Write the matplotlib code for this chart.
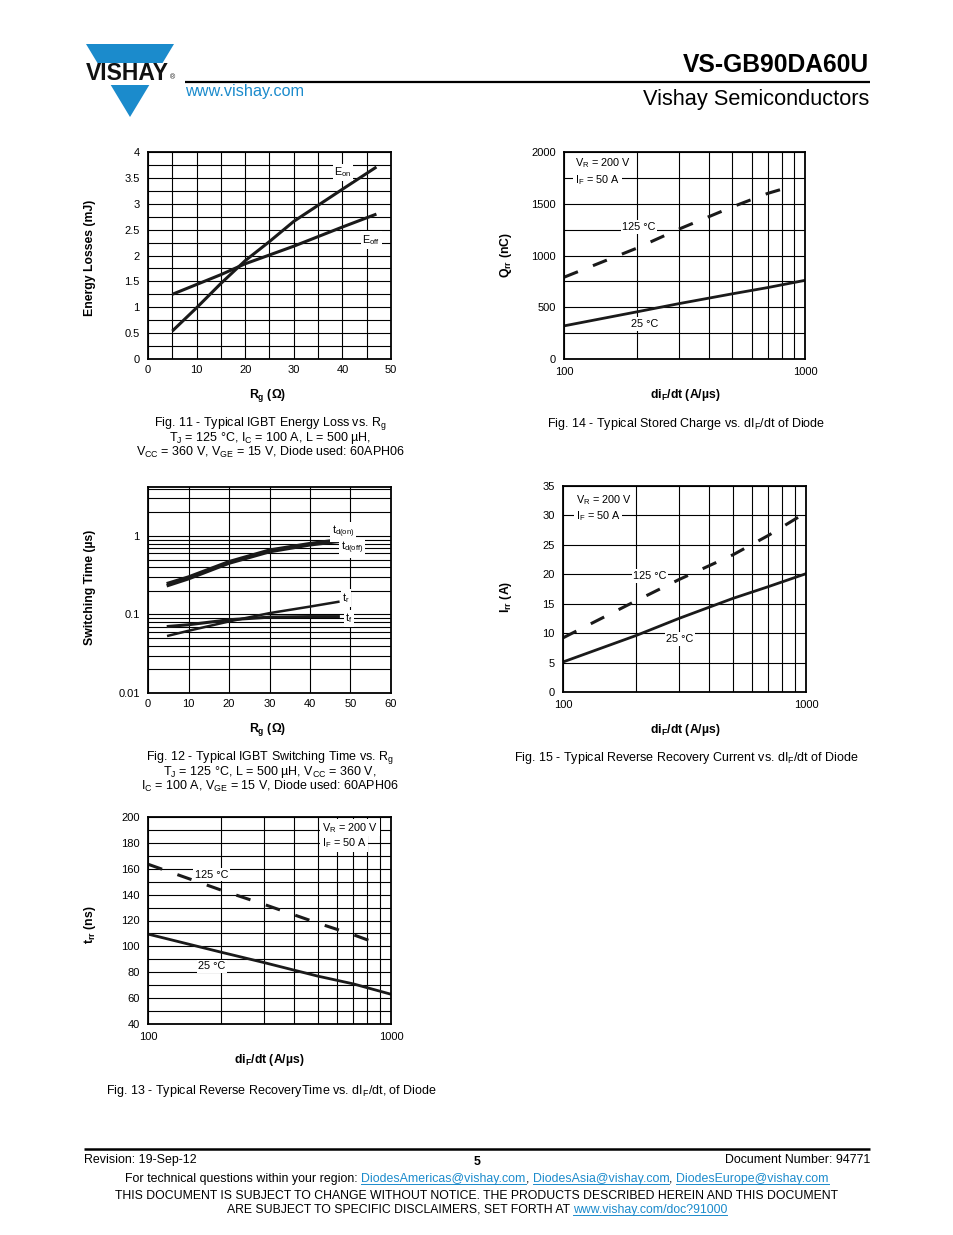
import matplotlib
matplotlib.use("Agg")
import matplotlib.pyplot as plt
from matplotlib.ticker import FixedLocator, MultipleLocator, NullFormatter, FixedFormatter
from matplotlib.patches import Polygon, Rectangle

plt.rcParams['font.family'] = ['Liberation Sans', 'DejaVu Sans']
plt.rcParams['mathtext.fontset'] = 'custom'
plt.rcParams['mathtext.rm'] = 'Liberation Sans'
plt.rcParams['mathtext.it'] = 'Liberation Sans'
plt.rcParams['mathtext.bf'] = 'Liberation Sans:bold'

# ---------------- data ----------------
# Fig 11 - energy loss vs Rg
rg_eon = [5, 10, 15, 20, 25, 30, 40, 47]
e_on = [0.54, 0.99, 1.46, 1.90, 2.27, 2.66, 3.28, 3.71]
rg_eoff = [5, 10, 15, 20, 30, 40, 47]
e_off = [1.25, 1.44, 1.63, 1.84, 2.18, 2.55, 2.80]

# Fig 12 - switching time vs Rg
rg_t = [5, 10, 20, 30, 40, 47]
td_on = [0.25, 0.30, 0.47, 0.66, 0.80, 0.89]
td_off = [0.235, 0.285, 0.45, 0.63, 0.77, 0.85]
t_r = [0.0536, 0.062, 0.0815, 0.104, 0.126, 0.145]
t_f = [0.0704, 0.074, 0.0856, 0.0925, 0.094, 0.094]

# Fig 13 - trr vs dIF/dt
didt_25 = [100, 200, 300, 500, 700, 1000]
trr_25 = [109.5, 95.5, 87.5, 77.0, 71.0, 63.0]
didt_125 = [100, 200, 300, 500, 700, 900]
trr_125 = [163.5, 143.5, 132.5, 118.0, 109.0, 101.5]

# Fig 14 - Qrr vs dIF/dt
qrr_25 = [320, 455, 535, 630, 690, 760]
qrr_125 = [790, 1070, 1255, 1470, 1600, 1675]

# Fig 15 - Irr vs dIF/dt
irr_25 = [5.1, 9.6, 12.5, 15.9, 17.9, 20.1]
irr_125 = [9.2, 15.5, 19.1, 23.3, 26.6, 30.5]
didt_irr_125 = [100, 200, 300, 500, 700, 1000]

W, H = 954, 1235
fig = plt.figure(figsize=(W / 100, H / 100), dpi=100)

ov = fig.add_axes([0, 0, 1, 1], zorder=-1)
ov.set_xlim(0, W)
ov.set_ylim(H, 0)
ov.axis('off')

BLUE = '#1b8bcc'
GRID = dict(color='black', lw=0.8)
TICK = 8
LBL = 8.8
CAP = 9.0
INL = 7.8
BOX = dict(facecolor='white', edgecolor='none', pad=1.2)
DASH = (0, (4.9, 5.3))


def px_axes(x0, y0, x1, y1):
    return fig.add_axes([x0 / W, 1 - y1 / H, (x1 - x0) / W, (y1 - y0) / H])


def style(ax):
    for s in ax.spines.values():
        s.set_linewidth(1.3)
    ax.tick_params(which='both', length=0, labelsize=TICK)
    ax.tick_params(axis='x', pad=4)
    ax.tick_params(axis='y', pad=6)
    ax.grid(True, which='both', **GRID)
    ax.set_axisbelow(True)


def logx_setup(ax):
    ax.set_xscale('log')
    ax.set_xlim(100, 1000)
    ax.xaxis.set_major_locator(FixedLocator([100, 1000]))
    ax.xaxis.set_major_formatter(FixedFormatter(['100', '1000']))
    ax.xaxis.set_minor_locator(FixedLocator([200, 300, 400, 500, 600, 700, 800, 900]))
    ax.xaxis.set_minor_formatter(NullFormatter())
    ax.tick_params(axis='x', pad=6)


# ---------------- Fig 11 ----------------
ax = px_axes(148, 152, 391, 359)
style(ax)
ax.set_xlim(0, 50)
ax.set_ylim(0, 4)
ax.xaxis.set_major_locator(MultipleLocator(10))
ax.xaxis.set_minor_locator(MultipleLocator(5))
ax.yaxis.set_major_locator(MultipleLocator(0.5))
ax.yaxis.set_minor_locator(MultipleLocator(0.25))
ax.yaxis.set_major_formatter(plt.FuncFormatter(lambda v, p: ('%g' % v)))
ax.plot(rg_eon, e_on, color='#1a1a1a', lw=2.2, solid_capstyle='butt')
ax.plot(rg_eoff, e_off, color='#1a1a1a', lw=2.2, solid_capstyle='butt')
ax.text(40.1, 3.61, 'E$_{on}$', fontsize=INL, ha='center', va='center', bbox=BOX)
ax.text(45.9, 2.30, 'E$_{off}$', fontsize=INL, ha='center', va='center', bbox=BOX)

# ---------------- Fig 12 ----------------
ax = px_axes(148, 487, 391, 693)
style(ax)
ax.set_yscale('log')
ax.set_xlim(0, 60)
ax.set_ylim(0.01, 4.2)
ax.xaxis.set_major_locator(MultipleLocator(10))
ax.xaxis.set_minor_locator(MultipleLocator(10))
ax.yaxis.set_major_locator(FixedLocator([0.01, 0.1, 1]))
ax.yaxis.set_major_formatter(FixedFormatter(['0.01', '0.1', '1']))
ax.yaxis.set_minor_locator(FixedLocator([m * 10.0 ** e for e in (-2, -1, 0) for m in range(2, 10)]))
ax.yaxis.set_minor_formatter(NullFormatter())
ax.plot(rg_t, td_on, color='#1a1a1a', lw=2.4)
ax.plot(rg_t, td_off, color='#1a1a1a', lw=2.4)
ax.plot(rg_t, t_r, color='#1a1a1a', lw=1.8)
ax.plot(rg_t, t_f, color='#1a1a1a', lw=2.2)
ax.text(48.1, 1.12, 't$_{d(on)}$', fontsize=INL, ha='center', va='center', bbox=BOX)
ax.text(50.4, 0.70, 't$_{d(off)}$', fontsize=INL, ha='center', va='center', bbox=BOX)
ax.text(48.9, 0.162, 't$_{r}$', fontsize=INL, ha='center', va='center', bbox=BOX)
ax.text(49.6, 0.090, 't$_{f}$', fontsize=INL, ha='center', va='center', bbox=BOX)

# ---------------- Fig 13 ----------------
ax = px_axes(148, 817, 391, 1024)
style(ax)
logx_setup(ax)
ax.set_ylim(40, 200)
ax.yaxis.set_major_locator(MultipleLocator(20))
ax.yaxis.set_minor_locator(MultipleLocator(10))
ax.plot(didt_25, trr_25, color='#1a1a1a', lw=2.0)
ax.plot(didt_125, trr_125, color='#1a1a1a', lw=2.2, ls=DASH)
ax.text(183, 155.5, '125 °C', fontsize=INL, ha='center', va='center', bbox=BOX)
ax.text(183, 84.5, '25 °C', fontsize=INL, ha='center', va='center', bbox=BOX)
ax.text(0.716, 0.947, 'V$_{R}$ = 200 V', fontsize=INL, ha='left', va='center',
        transform=ax.transAxes, bbox=BOX)
ax.text(0.716, 0.874, 'I$_{F}$ = 50 A', fontsize=INL, ha='left', va='center',
        transform=ax.transAxes, bbox=BOX)

# ---------------- Fig 14 ----------------
ax = px_axes(564, 152, 805, 359)
style(ax)
logx_setup(ax)
ax.set_ylim(0, 2000)
ax.yaxis.set_major_locator(MultipleLocator(500))
ax.yaxis.set_minor_locator(MultipleLocator(250))
ax.plot(didt_25, qrr_25, color='#1a1a1a', lw=2.0)
ax.plot(didt_125, qrr_125, color='#1a1a1a', lw=2.2, ls=DASH)
ax.text(205, 1275, '125 °C', fontsize=INL, ha='center', va='center', bbox=BOX)
ax.text(217, 338, '25 °C', fontsize=INL, ha='center', va='center', bbox=BOX)
ax.text(0.046, 0.947, 'V$_{R}$ = 200 V', fontsize=INL, ha='left', va='center',
        transform=ax.transAxes, bbox=BOX)
ax.text(0.046, 0.865, 'I$_{F}$ = 50 A', fontsize=INL, ha='left', va='center',
        transform=ax.transAxes, bbox=BOX)

# ---------------- Fig 15 ----------------
ax = px_axes(563, 486, 806, 692)
style(ax)
logx_setup(ax)
ax.set_ylim(0, 35)
ax.yaxis.set_major_locator(MultipleLocator(5))
ax.yaxis.set_minor_locator(MultipleLocator(5))
ax.plot(didt_25, irr_25, color='#1a1a1a', lw=2.0)
ax.plot(didt_irr_125, irr_125, color='#1a1a1a', lw=2.2, ls=DASH)
ax.text(228, 19.7, '125 °C', fontsize=INL, ha='center', va='center', bbox=BOX)
ax.text(303, 9.0, '25 °C', fontsize=INL, ha='center', va='center', bbox=BOX)
ax.text(0.053, 0.932, 'V$_{R}$ = 200 V', fontsize=INL, ha='left', va='center',
        transform=ax.transAxes, bbox=BOX)
ax.text(0.053, 0.854, 'I$_{F}$ = 50 A', fontsize=INL, ha='left', va='center',
        transform=ax.transAxes, bbox=BOX)

# ---------------- axis labels ----------------
def ylab(x, y, s):
    ov.text(x, y, s, rotation=90, ha='center', va='center', fontsize=LBL, fontweight='bold')


def xlab(x, y, s):
    ov.text(x, y, s, ha='center', va='center', fontsize=LBL, fontweight='bold')


ylab(90, 258, 'Energy Losses (mJ)')
ylab(90, 587, 'Switching Time (µs)')
ylab(90, 925, r't$_{\mathbf{rr}}$ (ns)')
ylab(506, 255, r'Q$_{\mathbf{rr}}$ (nC)')
ylab(506, 597, r'I$_{\mathbf{rr}}$ (A)')
xlab(268, 396, r'R$_{\mathbf{g}}$ (Ω)')
xlab(268, 730, r'R$_{\mathbf{g}}$ (Ω)')
xlab(269, 1060, r'di$_{\mathbf{F}}$/dt (A/µs)')
xlab(685, 395, r'di$_{\mathbf{F}}$/dt (A/µs)')
xlab(685, 730, r'di$_{\mathbf{F}}$/dt (A/µs)')

# ---------------- captions ----------------
def cap(x, y, s):
    ov.text(x, y, s, ha='center', va='baseline', fontsize=CAP)


cap(270, 426, 'Fig. 11 - Typical IGBT Energy Loss vs. R$_{g}$')
cap(270, 441, 'T$_{J}$ = 125 °C, I$_{C}$ = 100 A, L = 500 µH,')
cap(270, 456, 'V$_{CC}$ = 360 V, V$_{GE}$ = 15 V, Diode used: 60APH06')
cap(270, 760, 'Fig. 12 - Typical IGBT Switching Time vs. R$_{g}$')
cap(270, 775, 'T$_{J}$ = 125 °C, L = 500 µH, V$_{CC}$ = 360 V,')
cap(270, 790, 'I$_{C}$ = 100 A, V$_{GE}$ = 15 V, Diode used: 60APH06')
cap(271, 1094, 'Fig. 13 - Typical Reverse RecoveryTime vs. dI$_{F}$/dt, of Diode')
cap(686, 427, 'Fig. 14 - Typical Stored Charge vs. dI$_{F}$/dt of Diode')
cap(686, 761, 'Fig. 15 - Typical Reverse Recovery Current vs. dI$_{F}$/dt of Diode')

# ---------------- header ----------------
ov.add_patch(Polygon([[86, 44], [174, 44], [130, 117]], closed=True, facecolor=BLUE, edgecolor='none'))
ov.add_patch(Rectangle((80, 63), 98, 22, facecolor='white', edgecolor='none'))
ov.text(127, 74, 'VISHAY', fontsize=16.5, fontweight='bold', ha='center', va='center', color='#111111')
ov.text(173, 78, '®', fontsize=5, ha='center', va='center', color='#111111')
ov.plot([185, 870], [82, 82], color='black', lw=1.6, solid_capstyle='butt')
ov.text(869, 72, 'VS-GB90DA60U', fontsize=17.7, fontweight='bold', ha='right', va='baseline')
ov.text(869, 105, 'Vishay Semiconductors', fontsize=15.7, ha='right', va='baseline')
ov.text(185, 96, 'www.vishay.com', fontsize=11.7, ha='left', va='baseline', color=BLUE)

# ---------------- footer ----------------
ov.plot([84, 870], [1149, 1149], color='black', lw=1.8, solid_capstyle='butt')
ov.text(84, 1163, 'Revision: 19-Sep-12', fontsize=8.9, ha='left', va='baseline')
ov.text(477, 1165, '5', fontsize=8.9, fontweight='bold', ha='center', va='baseline')
ov.text(870, 1163, 'Document Number: 94771', fontsize=8.9, ha='right', va='baseline')

renderer = fig.canvas.get_renderer()


def chain(parts, xc, y, size):
    arts, widths = [], []
    for t, c, u in parts:
        a = ov.text(0, y, t, color=c, fontsize=size, ha='left', va='baseline')
        widths.append(a.get_window_extent(renderer=renderer).width)
        arts.append(a)
    x = xc - sum(widths) / 2
    for a, w, (t, c, u) in zip(arts, widths, parts):
        a.set_x(x)
        if u:
            ov.plot([x, x + w], [y + 2, y + 2], color=c, lw=0.7)
        x += w


chain([('For technical questions within your region: ', 'black', False),
       ('DiodesAmericas@vishay.com', BLUE, True),
       (', ', 'black', False),
       ('DiodesAsia@vishay.com', BLUE, True),
       (', ', 'black', False),
       ('DiodesEurope@vishay.com', BLUE, True)], 477, 1182, 8.9)
ov.text(477, 1199, 'THIS DOCUMENT IS SUBJECT TO CHANGE WITHOUT NOTICE. THE PRODUCTS DESCRIBED HEREIN AND THIS DOCUMENT',
        fontsize=8.85, ha='center', va='baseline')
chain([('ARE SUBJECT TO SPECIFIC DISCLAIMERS, SET FORTH AT ', 'black', False),
       ('www.vishay.com/doc?91000', BLUE, True)], 477, 1213, 8.85)

fig.savefig('out.png', dpi=100)
